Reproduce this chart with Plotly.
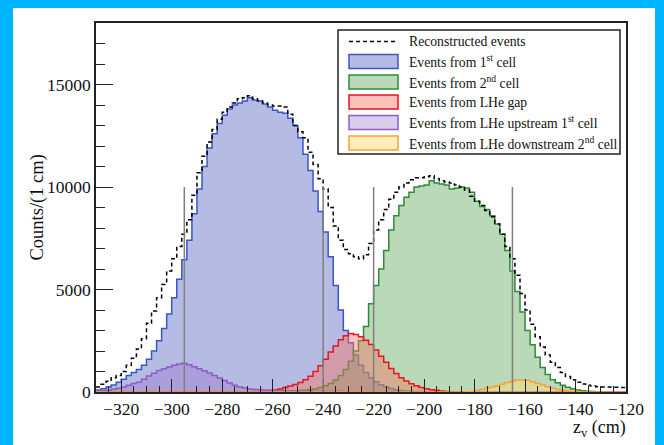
import numpy as np
import plotly.graph_objects as go

# ---------------- data (counts per 1 cm, 2 cm bins) ----------------
ZV_CENTERS = np.arange(-329, -120, 2)  # bin centres, -329 ... -121 (105 bins)
BIN_WIDTH = 2

RECONSTRUCTED = [
    250, 380, 520, 700, 800, 1000, 1300, 1650, 2100, 2600,
    3350, 3950, 4600, 5250, 5900, 6500, 7100, 7700, 8400, 9600,
    10700, 11500, 12200, 12800, 13300, 13650, 13900, 14100, 14300, 14350,
    14450, 14300, 14200, 14100, 14000, 13950, 13950, 13900, 13550, 13000,
    12700, 12400, 11700, 11100, 10400, 9900, 9000, 8100, 7400, 6950,
    6750, 6600, 6500, 6700, 7250, 7900, 8400, 8900, 9400, 9750,
    10000, 10200, 10350, 10450, 10450, 10500, 10550, 10400, 10300, 10250,
    10200, 10100, 10000, 9850, 9550, 9300, 9100, 8850, 8550, 8200,
    7700, 7100, 6500, 5700, 4800, 4000, 3300, 2700, 2200, 1800,
    1450, 1200, 950, 760, 600, 480, 390, 330, 290, 260,
    250, 240, 230, 230, 220,
]
CELL1 = [
    100, 160, 240, 340, 470, 620, 800, 950, 1100, 1300,
    1600, 2000, 2500, 3100, 3800, 4600, 5500, 6450, 7400, 8700,
    9900, 11000, 11900, 12600, 13100, 13500, 13800, 14000, 14100, 14200,
    14350, 14250, 14200, 14050, 13900, 13750, 13650, 13600, 13350, 13000,
    12400, 11600, 10800, 9800, 8800, 7800, 6600, 5200, 4000, 3000,
    2400, 1800, 1300, 950, 700, 500, 350, 250, 170, 110,
    70, 45, 30, 20, 10, 5, 0, 0, 0, 0,
    0, 0, 0, 0, 0, 0, 0, 0, 0, 0,
    0, 0, 0, 0, 0, 0, 0, 0, 0, 0,
    0, 0, 0, 0, 0, 0, 0, 0, 0, 0,
    0, 0, 0, 0, 0,
]
CELL2 = [
    0, 0, 0, 0, 0, 0, 0, 0, 0, 0,
    0, 0, 0, 0, 0, 0, 0, 0, 0, 0,
    0, 0, 0, 0, 0, 0, 0, 0, 0, 0,
    0, 0, 0, 0, 0, 0, 10, 20, 35, 50,
    70, 90, 120, 160, 220, 300, 420, 580, 800, 1100,
    1500, 2000, 2500, 3200, 4300, 5200, 6000, 6900, 7900, 8600,
    9100, 9500, 9750, 10000, 10050, 10100, 10300, 10200, 10150, 10100,
    9900, 9950, 10000, 9950, 9750, 9300, 9050, 8900, 8600, 8200,
    7700, 6900, 5900, 4900, 3900, 3000, 2300, 1700, 1200, 850,
    600, 450, 330, 230, 160, 100, 60, 35, 20, 10,
    0, 0, 0, 0, 0,
]
LHE_GAP = [
    0, 0, 0, 0, 0, 0, 0, 0, 0, 0,
    0, 0, 0, 0, 0, 0, 0, 0, 0, 0,
    0, 0, 0, 0, 0, 0, 0, 0, 0, 0,
    0, 0, 0, 30, 60, 100, 150, 220, 290, 370,
    460, 600, 770, 1000, 1280, 1600, 1950, 2250, 2550, 2750,
    2850, 2800, 2700, 2520, 2320, 2050, 1750, 1450, 1150, 900,
    700, 540, 400, 300, 220, 160, 110, 80, 50, 30,
    15, 5, 0, 0, 0, 0, 0, 0, 0, 0,
    0, 0, 0, 0, 0, 0, 0, 0, 0, 0,
    0, 0, 0, 0, 0, 0, 0, 0, 0, 0,
    0, 0, 0, 0, 0,
]
LHE_UP = [
    40, 60, 90, 130, 180, 250, 330, 420, 480, 620,
    780, 920, 1050, 1140, 1220, 1300, 1370, 1400, 1330, 1230,
    1140, 1040, 930, 800, 680, 560, 440, 330, 250, 190,
    150, 125, 105, 95, 80, 70, 60, 50, 45, 40,
    38, 35, 33, 30, 28, 26, 24, 22, 20, 18,
    16, 15, 14, 13, 12, 11, 10, 9, 8, 7,
    6, 5, 4, 3, 2, 1, 0, 0, 0, 0,
    0, 0, 0, 0, 0, 0, 0, 0, 0, 0,
    0, 0, 0, 0, 0, 0, 0, 0, 0, 0,
    0, 0, 0, 0, 0, 0, 0, 0, 0, 0,
    0, 0, 0, 0, 0,
]
LHE_DOWN = [
    0, 0, 0, 0, 0, 0, 0, 0, 0, 0,
    0, 0, 0, 0, 0, 0, 0, 0, 0, 0,
    0, 0, 0, 0, 0, 0, 0, 0, 0, 0,
    0, 0, 0, 0, 0, 0, 0, 0, 0, 0,
    0, 0, 0, 0, 0, 0, 0, 0, 0, 0,
    0, 0, 0, 0, 0, 0, 0, 0, 0, 0,
    0, 0, 0, 0, 0, 0, 0, 0, 0, 0,
    0, 0, 0, 10, 30, 70, 120, 180, 240, 310,
    380, 460, 530, 580, 590, 570, 500, 420, 340, 260,
    180, 120, 80, 50, 30, 15, 0, 0, 0, 0,
    0, 0, 0, 0, 0,
]

CELL_BOUNDARIES = [-295, -240, -220, -165]  # cm
BOUNDARY_HEIGHT = 10000

LEGEND_LABELS = [
    "Reconstructed events",
    "Events from 1<sup>st</sup> cell",
    "Events from 2<sup>nd</sup> cell",
    "Events from LHe gap",
    "Events from LHe upstream 1<sup>st</sup> cell",
    "Events from LHe downstream 2<sup>nd</sup> cell",
]

X_RANGE = [-330, -120]
Y_RANGE = [0, 18000]
Y_TICKS = [0, 5000, 10000, 15000]
Y_TICKTEXT = ["0", "5000", "10000", "15000"]

# ---------------- styles ----------------
FONT = "Liberation Serif, Times New Roman, serif"
TXT = "#111111"
STYLES = [
    # (line colour, fill colour)
    ("#3a55c8", "rgba(110,120,200,0.5)"),   # 1st cell
    ("#2e8a3a", "rgba(100,170,100,0.45)"),  # 2nd cell
    ("#e8141e", "rgba(245,120,100,0.45)"),  # gap
    ("#8a5cc8", "rgba(150,110,200,0.35)"),  # upstream
    ("#ffa032", "rgba(255,220,120,0.5)"),   # downstream
]

W, H = 664, 445
ML, MR, MT, MB = 96, 38, 23, 53
PW, PH = W - ML - MR, H - MT - MB


def px_x(px):
    return (px - ML) / PW


def px_y(py):
    return (H - MB - py) / PH


def steps(centres, vals):
    c = np.asarray(centres, dtype=float)
    v = list(vals)
    xs = list(c - BIN_WIDTH / 2) + [c[-1] + BIN_WIDTH / 2]
    ys = v + [v[-1]]
    return xs, ys


fig = go.Figure()

series = [CELL1, CELL2, LHE_GAP, LHE_UP, LHE_DOWN]
for vals, (lc, fc) in zip(series, STYLES):
    xs, ys = steps(ZV_CENTERS, vals)
    fig.add_trace(go.Scatter(x=xs, y=ys, mode="lines", line_shape="hv",
                             line=dict(color=lc, width=1.5), fill="tozeroy",
                             fillcolor=fc, showlegend=False, hoverinfo="skip"))

xs, ys = steps(ZV_CENTERS, RECONSTRUCTED)
fig.add_trace(go.Scatter(x=xs, y=ys, mode="lines", line_shape="hv",
                         line=dict(color="black", width=1.5, dash="4px,3px"),
                         showlegend=False, hoverinfo="skip"))

shapes = []
# white page inside blue frame
shapes.append(dict(type="rect", xref="paper", yref="paper", layer="below",
                   x0=px_x(13), x1=px_x(655), y0=px_y(H + 5), y1=px_y(8),
                   fillcolor="white", line=dict(width=0)))
# cell boundary markers
for xb in CELL_BOUNDARIES:
    shapes.append(dict(type="line", xref="x", yref="y", x0=xb, x1=xb, y0=0,
                       y1=BOUNDARY_HEIGHT, line=dict(color="#7f7f7f", width=1.5),
                       layer="above"))

# legend
LEG_X0, LEG_X1, LEG_Y0, LEG_Y1 = 338, 620, 30, 154
shapes.append(dict(type="rect", xref="paper", yref="paper",
                   x0=px_x(LEG_X0), x1=px_x(LEG_X1), y0=px_y(LEG_Y1), y1=px_y(LEG_Y0),
                   fillcolor="white", line=dict(color="#222", width=1.5), layer="above"))
row_y = [41.5, 61.5, 82, 102, 122.5, 143]
annotations = []
for i, (lab, ry) in enumerate(zip(LEGEND_LABELS, row_y)):
    if i == 0:
        shapes.append(dict(type="line", xref="paper", yref="paper",
                           x0=px_x(349), x1=px_x(398), y0=px_y(ry), y1=px_y(ry),
                           line=dict(color="black", width=1.5, dash="4px,3px"),
                           layer="above"))
    else:
        lc, fc = STYLES[i - 1]
        shapes.append(dict(type="rect", xref="paper", yref="paper",
                           x0=px_x(349), x1=px_x(398), y0=px_y(ry + 7), y1=px_y(ry - 7),
                           fillcolor=fc, line=dict(color=lc, width=1.5), layer="above"))
    annotations.append(dict(xref="paper", yref="paper", x=px_x(407), y=px_y(ry),
                            xanchor="left", yanchor="middle", text=lab, showarrow=False,
                            font=dict(family=FONT, size=13.7, color=TXT)))

# axis titles
annotations.append(dict(xref="paper", yref="paper", x=px_x(628), y=px_y(428),
                        xanchor="right", yanchor="middle", showarrow=False,
                        text="z<sub>v</sub> (cm)", font=dict(family=FONT, size=18, color=TXT)))
annotations.append(dict(xref="paper", yref="paper", x=px_x(37), y=px_y(207.5),
                        xanchor="center", yanchor="middle", showarrow=False, textangle=-90,
                        text="Counts/(1 cm)", font=dict(family=FONT, size=18.5, color=TXT)))

axis_common = dict(showgrid=False, zeroline=False, showline=True, mirror=True,
                   linecolor="#222", linewidth=1.5, ticks="inside", tickcolor="#222",
                   tickwidth=1.2, tickfont=dict(family=FONT, size=17.5, color=TXT))

fig.update_layout(
    width=W, height=H,
    margin=dict(l=ML, r=MR, t=MT, b=MB),
    paper_bgcolor="#00b5ff", plot_bgcolor="white",
    showlegend=False,
    shapes=shapes, annotations=annotations,
    xaxis=dict(range=X_RANGE, dtick=20, tick0=-320, ticklen=13,
               minor=dict(dtick=5, ticklen=6.5, ticks="inside", tickcolor="#222"),
               **axis_common),
    yaxis=dict(range=Y_RANGE, tickvals=Y_TICKS, ticktext=Y_TICKTEXT, ticklen=17,
               minor=dict(dtick=1000, ticklen=9, ticks="inside", tickcolor="#222"),
               **axis_common),
)

fig.write_html("out.html")
